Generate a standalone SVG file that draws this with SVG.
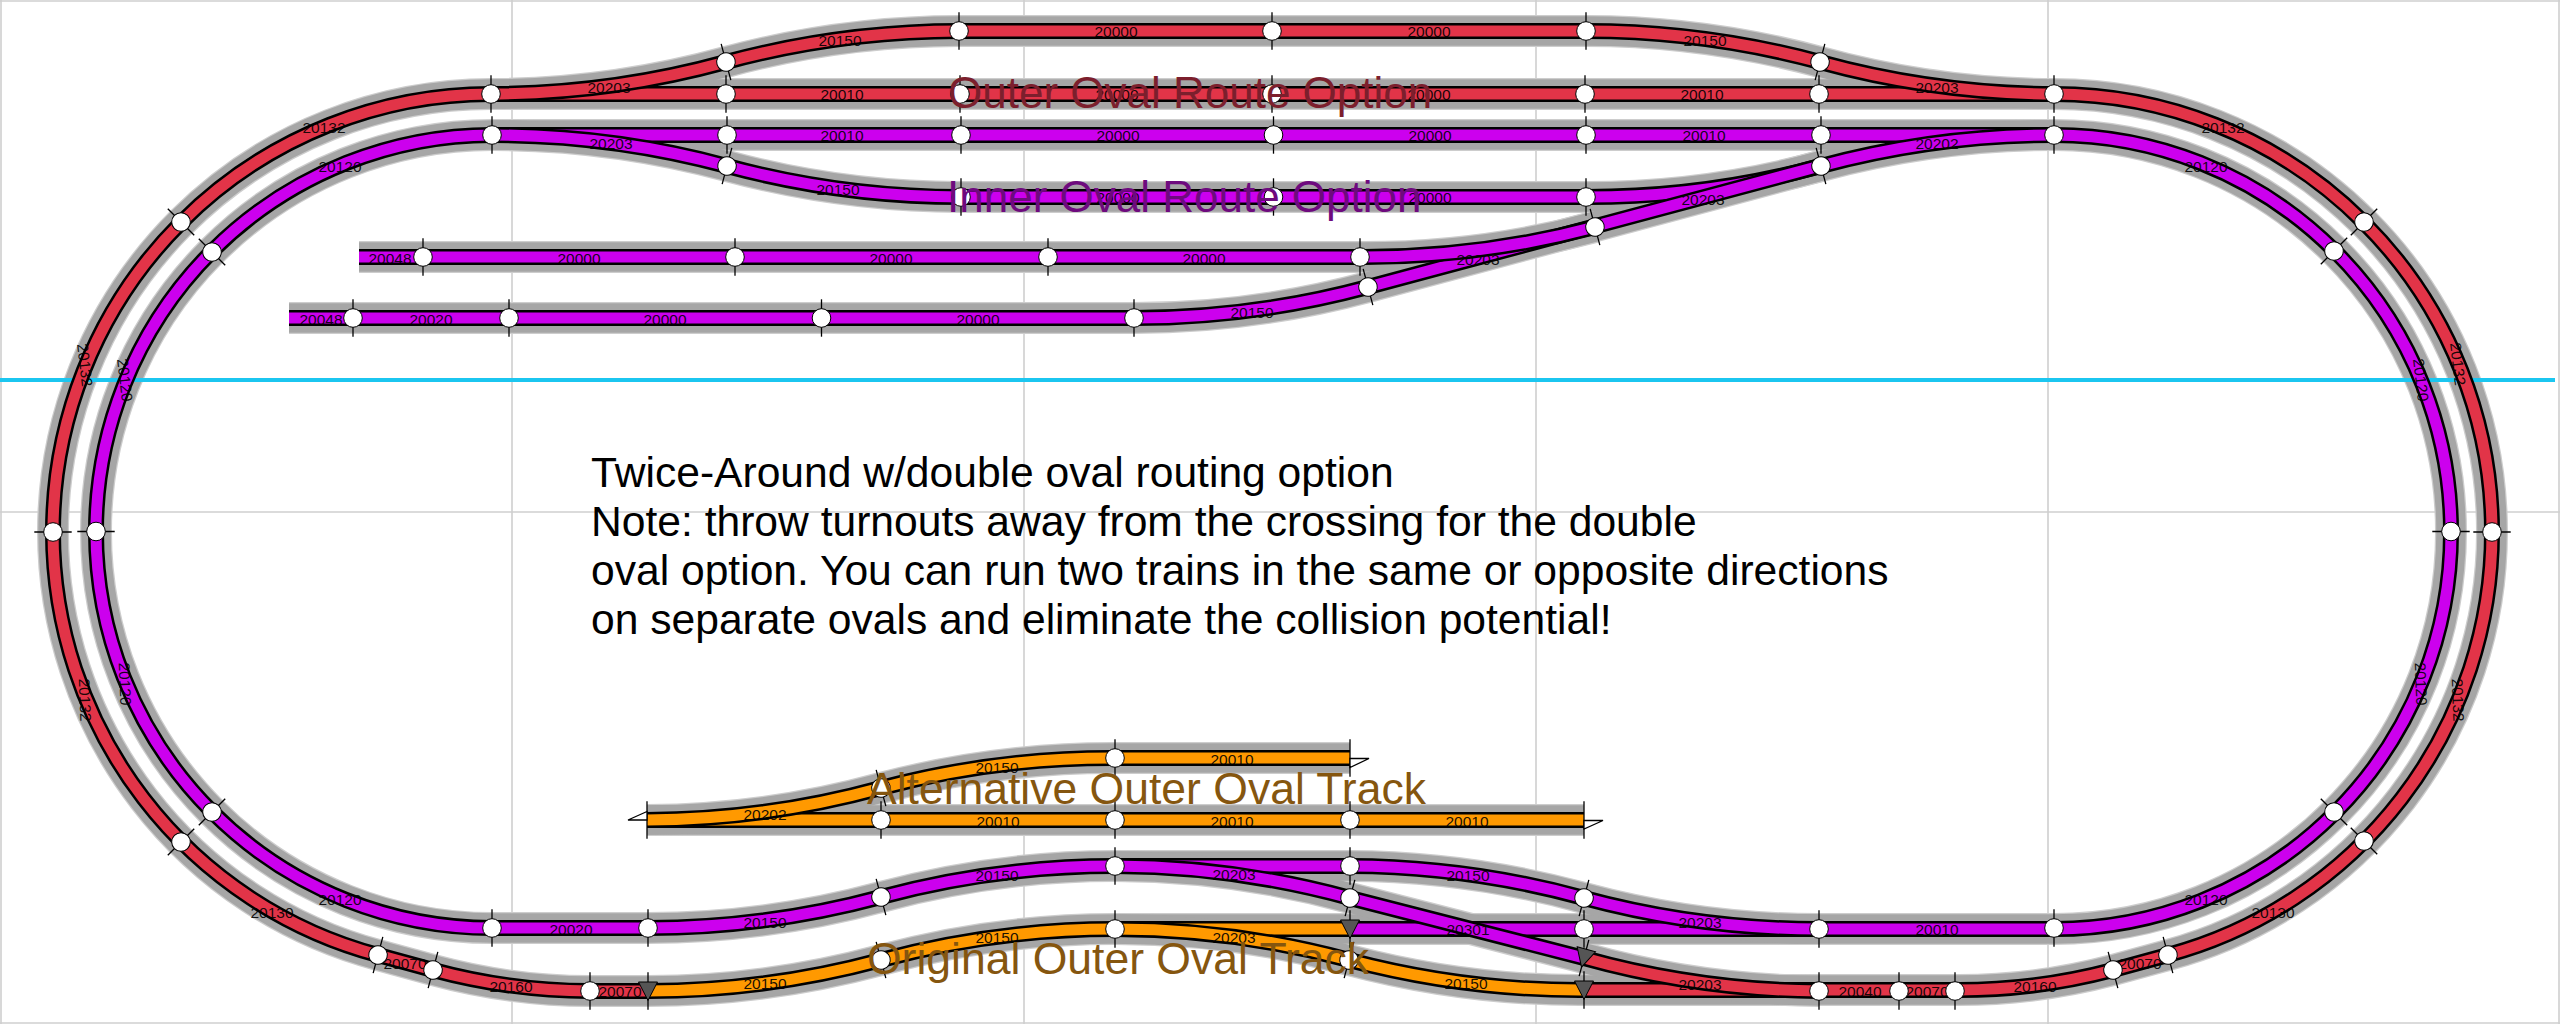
<svg xmlns="http://www.w3.org/2000/svg" width="2560" height="1024" viewBox="0 0 2560 1024">
<style>
.g{fill:none;stroke:#cfcfcf;stroke-width:1.600}
.b0{fill:none;stroke:#cdcdcd;stroke-width:32}
.b{fill:none;stroke:#a6a6a6;stroke-width:29.500}
.k{fill:none;stroke:#000;stroke-width:16}
.r{fill:none;stroke:#e23448;stroke-width:11}
.p{fill:none;stroke:#cc00ee;stroke-width:11}
.o{fill:none;stroke:#ff9900;stroke-width:11}
.t{fill:none;stroke:#000;stroke-width:1.300}
.n{fill:#fff;stroke:#000;stroke-width:1}
.a{fill:#555;stroke:#000;stroke-width:1}
.e{fill:#fff;stroke:#000;stroke-width:1.300}
text{font-family:"Liberation Sans",Arial,sans-serif}
.l{font-size:15.500px;text-anchor:middle;dominant-baseline:central;fill:#000;fill-opacity:.9}
.m{font-size:42.600px;fill:#000}
.h{font-size:44px}
.w{font-size:44.500px}
</style>
<defs>
<path id="t1" d="M2054 94H491A438 438 0 0 0 53 532A438 438 0 0 0 378 955L433 970A606 606 0 0 0 590 991H648"/>
<path id="t2" d="M1584 990H1955A606 606 0 0 0 2113 970L2168 955A438 438 0 0 0 2492 532A438 438 0 0 0 2054 94"/>
<path id="t3" d="M491 94A900 900 0 0 0 726 62A900 900 0 0 1 959 31H1586A900 900 0 0 1 1820 62A900 900 0 0 0 2054 94"/>
<path id="t4" d="M1584 958A900 900 0 0 0 1819 991"/>
<path id="t5" d="M2054 135H492A396.500 396.500 0 0 0 96 531.500A396.500 396.500 0 0 0 492 928H648A900 900 0 0 0 881 897A900 900 0 0 1 1115 866H1350"/>
<path id="t6" d="M1350 929H2054A396.500 396.500 0 0 0 2451 531.500A396.500 396.500 0 0 0 2054 135"/>
<path id="t7" d="M492 135A900 900 0 0 1 727 166A900 900 0 0 0 961 197H1586A900 900 0 0 0 1821 166A900 900 0 0 1 2054 135"/>
<path id="t8" d="M289 318H1134A900 900 0 0 0 1368 287L1820 166"/>
<path id="t9" d="M359 257H1360A900 900 0 0 0 1595 227"/>
<path id="t10" d="M1350 866A900 900 0 0 1 1584 898A900 900 0 0 0 1819 929"/>
<path id="t11" d="M1115 866A900 900 0 0 1 1350 898L1584 958"/>
<path id="t12" d="M648 991A900 900 0 0 0 881 960A900 900 0 0 1 1115 929H1350"/>
<path id="t13" d="M1115 929A900 900 0 0 1 1349 960A900 900 0 0 0 1584 990"/>
<path id="t14" d="M647 820H1584"/>
<path id="t15" d="M647 820A900 900 0 0 0 881 788A900 900 0 0 1 1115 758H1350"/>
<g id="nd"><path class="t" d="M0 -18.700V18.700"/><circle class="n" r="9.300"/></g>
<g id="tr"><path class="t" d="M0 -18.700V18.700"/><path class="a" d="M-9.500 -9H9.500L0 9.500Z"/></g>
<path id="tk" class="t" d="M0 -18.700V18.700"/>
</defs>
<rect width="2560" height="1024" fill="#fff"/>
<g id="grid">
<path class="g" d="M1 0V1024M512 0V1024M1024 0V1024M1536 0V1024M2048 0V1024M2559 0V1024M0 1H2560M0 512H2560M0 1023H2560"/>
</g>
<g id="connectors">
<g id="ballast-edge" class="b0">
<use href="#t1"/><use href="#t2"/><use href="#t3"/><use href="#t4"/><use href="#t5"/><use href="#t6"/><use href="#t7"/><use href="#t8"/><use href="#t9"/><use href="#t10"/><use href="#t11"/><use href="#t12"/><use href="#t13"/><use href="#t14"/><use href="#t15"/>
</g>
<g id="ballast" class="b">
<use href="#t1"/><use href="#t2"/><use href="#t3"/><use href="#t4"/><use href="#t5"/><use href="#t6"/><use href="#t7"/><use href="#t8"/><use href="#t9"/><use href="#t10"/><use href="#t11"/><use href="#t12"/><use href="#t13"/><use href="#t14"/><use href="#t15"/>
</g>
<path id="cyan-line" d="M0 380H2555" fill="none" stroke="#1bc6f0" stroke-width="4"/>
<g id="rails-red">
<use href="#t1" class="k"/><use href="#t1" class="r"/>
<use href="#t2" class="k"/><use href="#t2" class="r"/>
<use href="#t3" class="k"/><use href="#t3" class="r"/>
<use href="#t4" class="k"/><use href="#t4" class="r"/>
</g>
<g id="rails-purple">
<use href="#t5" class="k"/><use href="#t5" class="p"/>
<use href="#t6" class="k"/><use href="#t6" class="p"/>
<use href="#t7" class="k"/><use href="#t7" class="p"/>
<use href="#t8" class="k"/><use href="#t8" class="p"/>
<use href="#t9" class="k"/><use href="#t9" class="p"/>
<use href="#t10" class="k"/><use href="#t10" class="p"/>
<use href="#t11" class="k"/><use href="#t11" class="p"/>
</g>
<g id="rails-orange">
<use href="#t12" class="k"/><use href="#t12" class="o"/>
<use href="#t13" class="k"/><use href="#t13" class="o"/>
<use href="#t14" class="k"/><use href="#t14" class="o"/>
<use href="#t15" class="k"/><use href="#t15" class="o"/>
</g>
</g>
<g id="piece-labels">
<text class="l" x="840" y="40">20150</text><text class="l" x="1116" y="31">20000</text><text class="l" x="1429" y="31">20000</text><text class="l" x="1705" y="40">20150</text>
<text class="l" x="609" y="87">20203</text><text class="l" x="842" y="94">20010</text><text class="l" x="1117" y="94">20000</text><text class="l" x="1429" y="94">20000</text><text class="l" x="1702" y="94">20010</text><text class="l" x="1937" y="87">20203</text>
<text class="l" x="611" y="143">20203</text><text class="l" x="842" y="135">20010</text><text class="l" x="1118" y="135">20000</text><text class="l" x="1430" y="135">20000</text><text class="l" x="1704" y="135">20010</text><text class="l" x="1937" y="143">20202</text>
<text class="l" x="838" y="189">20150</text><text class="l" x="1118" y="197">20000</text><text class="l" x="1430" y="197">20000</text><text class="l" x="1703" y="199">20203</text>
<text class="l" x="390" y="258">20048</text><text class="l" x="579" y="258">20000</text><text class="l" x="891" y="258">20000</text><text class="l" x="1204" y="258">20000</text><text class="l" x="1478" y="259">20203</text>
<text class="l" x="321" y="319">20048</text><text class="l" x="431" y="319">20020</text><text class="l" x="665" y="319">20000</text><text class="l" x="978" y="319">20000</text><text class="l" x="1252" y="312">20150</text>
<text class="l" x="324" y="127">20132</text><text class="l" x="340" y="166">20120</text><text class="l" x="2223" y="127">20132</text><text class="l" x="2206" y="166">20120</text>
<text class="l" transform="translate(85 365) rotate(83)">20132</text><text class="l" transform="translate(125 380) rotate(83)">20120</text>
<text class="l" transform="translate(85 700) rotate(88)">20132</text><text class="l" transform="translate(125 684) rotate(88)">20120</text>
<text class="l" transform="translate(2458 364) rotate(83)">20132</text><text class="l" transform="translate(2421 380) rotate(83)">20120</text>
<text class="l" transform="translate(2421 684) rotate(88)">20120</text><text class="l" transform="translate(2458 700) rotate(88)">20132</text>
<text class="l" x="340" y="899">20120</text><text class="l" x="272" y="912">20130</text><text class="l" x="405" y="963">20070</text><text class="l" x="511" y="986">20160</text><text class="l" x="620" y="991">20070</text><text class="l" x="571" y="929">20020</text><text class="l" x="765" y="922">20150</text><text class="l" x="765" y="983">20150</text><text class="l" x="765" y="814">20202</text>
<text class="l" x="997" y="767">20150</text><text class="l" x="1232" y="759">20010</text><text class="l" x="998" y="821">20010</text><text class="l" x="1232" y="821">20010</text><text class="l" x="1467" y="821">20010</text>
<text class="l" x="997" y="875">20150</text><text class="l" x="1234" y="874">20203</text><text class="l" x="1468" y="875">20150</text><text class="l" x="1468" y="929">20301</text>
<text class="l" x="997" y="937">20150</text><text class="l" x="1234" y="937">20203</text><text class="l" x="1466" y="983">20150</text><text class="l" x="1700" y="922">20203</text><text class="l" x="1700" y="984">20203</text>
<text class="l" x="1937" y="929">20010</text><text class="l" x="1860" y="991">20040</text><text class="l" x="1927" y="991">20070</text><text class="l" x="2035" y="986">20160</text><text class="l" x="2140" y="963">20070</text><text class="l" x="2273" y="912">20130</text><text class="l" x="2206" y="899">20120</text>
</g>
<g id="nodes-red">
<g id="r1" transform="translate(491 94)"><use href="#nd"/></g>
<g id="r2" transform="translate(726 94)"><use href="#nd"/></g>
<g id="r3" transform="translate(960 94)"><use href="#nd"/></g>
<g id="r4" transform="translate(1272 94)"><use href="#nd"/></g>
<g id="r5" transform="translate(1585 94)"><use href="#nd"/></g>
<g id="r6" transform="translate(1819 94)"><use href="#nd"/></g>
<g id="r7" transform="translate(2054 94)"><use href="#nd"/></g>
<g id="r8" transform="translate(726 62) rotate(-15)"><use href="#nd"/></g>
<g id="r9" transform="translate(959 31)"><use href="#nd"/></g>
<g id="r10" transform="translate(1272 31)"><use href="#nd"/></g>
<g id="r11" transform="translate(1586 31)"><use href="#nd"/></g>
<g id="r12" transform="translate(1820 62) rotate(15)"><use href="#nd"/></g>
<g id="r13" transform="translate(181 222) rotate(-45)"><use href="#nd"/></g>
<g id="r14" transform="translate(53 532) rotate(90)"><use href="#nd"/></g>
<g id="r15" transform="translate(181 842) rotate(45)"><use href="#nd"/></g>
<g id="r16" transform="translate(378 955) rotate(15)"><use href="#nd"/></g>
<g id="r17" transform="translate(433 970) rotate(15)"><use href="#nd"/></g>
<g id="r18" transform="translate(590 991)"><use href="#nd"/></g>
<g id="r19" transform="translate(1819 991)"><use href="#nd"/></g>
<g id="r20" transform="translate(1899 991)"><use href="#nd"/></g>
<g id="r21" transform="translate(1955 991)"><use href="#nd"/></g>
<g id="r22" transform="translate(2113 970) rotate(-15)"><use href="#nd"/></g>
<g id="r23" transform="translate(2168 955) rotate(-15)"><use href="#nd"/></g>
<g id="r24" transform="translate(2364 841) rotate(-45)"><use href="#nd"/></g>
<g id="r25" transform="translate(2492 532) rotate(90)"><use href="#nd"/></g>
<g id="r26" transform="translate(2364 222) rotate(45)"><use href="#nd"/></g>
</g>
<g id="nodes-purple">
<g id="p1" transform="translate(492 135)"><use href="#nd"/></g>
<g id="p2" transform="translate(727 135)"><use href="#nd"/></g>
<g id="p3" transform="translate(961 135)"><use href="#nd"/></g>
<g id="p4" transform="translate(1273.500 135)"><use href="#nd"/></g>
<g id="p5" transform="translate(1586 135)"><use href="#nd"/></g>
<g id="p6" transform="translate(1821 135)"><use href="#nd"/></g>
<g id="p7" transform="translate(2054 135)"><use href="#nd"/></g>
<g id="p8" transform="translate(727 166) rotate(15)"><use href="#nd"/></g>
<g id="p9" transform="translate(961 197)"><use href="#nd"/></g>
<g id="p10" transform="translate(1273.500 197)"><use href="#nd"/></g>
<g id="p11" transform="translate(1586 197)"><use href="#nd"/></g>
<g id="p12" transform="translate(1821 166) rotate(-15)"><use href="#nd"/></g>
<g id="p13" transform="translate(423 257)"><use href="#nd"/></g>
<g id="p14" transform="translate(735 257)"><use href="#nd"/></g>
<g id="p15" transform="translate(1048 257)"><use href="#nd"/></g>
<g id="p16" transform="translate(1360 257)"><use href="#nd"/></g>
<g id="p17" transform="translate(353 318)"><use href="#nd"/></g>
<g id="p18" transform="translate(509 318)"><use href="#nd"/></g>
<g id="p19" transform="translate(821.500 318)"><use href="#nd"/></g>
<g id="p20" transform="translate(1134 318)"><use href="#nd"/></g>
<g id="p21" transform="translate(1368 287) rotate(-15)"><use href="#nd"/></g>
<g id="p22" transform="translate(1595 227) rotate(-15)"><use href="#nd"/></g>
<g id="p23" transform="translate(212 252) rotate(-45)"><use href="#nd"/></g>
<g id="p24" transform="translate(96 531.500) rotate(90)"><use href="#nd"/></g>
<g id="p25" transform="translate(212 812) rotate(45)"><use href="#nd"/></g>
<g id="p26" transform="translate(492 928)"><use href="#nd"/></g>
<g id="p27" transform="translate(648 928)"><use href="#nd"/></g>
<g id="p28" transform="translate(881 897) rotate(-15)"><use href="#nd"/></g>
<g id="p29" transform="translate(1115 866)"><use href="#nd"/></g>
<g id="p30" transform="translate(1350 866)"><use href="#nd"/></g>
<g id="p31" transform="translate(1350 898) rotate(15)"><use href="#nd"/></g>
<g id="p32" transform="translate(1584 898) rotate(15)"><use href="#nd"/></g>
<g id="p33" transform="translate(1584 929)"><use href="#nd"/></g>
<g id="p34" transform="translate(1819 929)"><use href="#nd"/></g>
<g id="p35" transform="translate(2054 928)"><use href="#nd"/></g>
<g id="p36" transform="translate(2334 812) rotate(-45)"><use href="#nd"/></g>
<g id="p37" transform="translate(2451 531.500) rotate(90)"><use href="#nd"/></g>
<g id="p38" transform="translate(2334 251) rotate(45)"><use href="#nd"/></g>
</g>
<g id="nodes-orange">
<g id="o1" transform="translate(881 960) rotate(-15)"><use href="#nd"/></g>
<g id="o2" transform="translate(1115 929)"><use href="#nd"/></g>
<g id="o3" transform="translate(1349 960) rotate(15)"><use href="#nd"/></g>
<g id="o4" transform="translate(881 820)"><use href="#nd"/></g>
<g id="o5" transform="translate(1115 820)"><use href="#nd"/></g>
<g id="o6" transform="translate(1350 820)"><use href="#nd"/></g>
<g id="o7" transform="translate(881 788) rotate(-15)"><use href="#nd"/></g>
<g id="o8" transform="translate(1115 758)"><use href="#nd"/></g>
<g id="j1" transform="translate(648 991)"><use href="#tr"/></g>
<g id="j2" transform="translate(1350 929)"><use href="#tr"/></g>
<g id="j3" transform="translate(1584 958) rotate(15)"><use href="#tr"/></g>
<g id="j4" transform="translate(1584 990)"><use href="#tr"/></g>
<g id="e1" transform="translate(647 820)"><use href="#tk"/><path class="e" d="M0 -8.500L-19 0H0Z"/></g>
<g id="e2" transform="translate(1584 820)"><use href="#tk"/><path class="e" d="M0 0.500H19L0 9Z"/></g>
<g id="e3" transform="translate(1350 758)"><use href="#tk"/><path class="e" d="M0 0.500H19L0 9.500Z"/></g>
</g>
<g id="titles">
<text class="h" x="948" y="108" fill="#7c1f2d">Outer Oval Route Option</text>
<text class="h" x="947" y="212" fill="#6e0a7e">Inner Oval Route Option</text>
<text class="w" x="867" y="804" fill="#85560f">Alternative Outer Oval Track</text>
<text class="w" x="867" y="974" fill="#85560f">Original Outer Oval Track</text>
</g>
<g id="note">
<text class="m" x="591" y="487">Twice-Around w/double oval routing option</text>
<text class="m" x="591" y="536">Note: throw turnouts away from the crossing for the double</text>
<text class="m" x="591" y="585">oval option. You can run two trains in the same or opposite directions</text>
<text class="m" x="591" y="634">on separate ovals and eliminate the collision potential!</text>
</g>
</svg>
